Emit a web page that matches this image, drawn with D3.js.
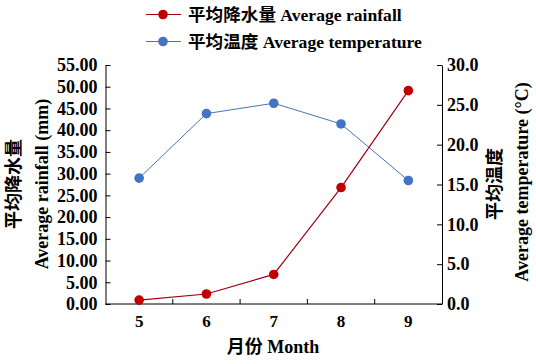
<!DOCTYPE html>
<html><head><meta charset="utf-8">
<script src="https://cdn.jsdelivr.net/npm/d3@7/dist/d3.min.js"></script>
<style>body{margin:0;background:#fff}svg{display:block}</style>
</head><body>
<svg id="c" width="536" height="364"></svg>
<script>
const months = ["5","6","7","8","9"];
const rainfall = [0.9, 2.3, 6.8, 26.8, 49.1];
const temperature = [15.8, 23.9, 25.2, 22.6, 15.5];
const leftTicks = [0,5,10,15,20,25,30,35,40,45,50,55];
const rightTicks = [0,5,10,15,20,25,30];

const FONT = "'Liberation Serif','Times New Roman','Noto Sans CJK SC',serif";
const svg = d3.select("#c");
const L = 105.5, R = 442, T = 65, B = 304;

const x = d3.scaleBand().domain(months).range([L, R]);
const yL = d3.scaleLinear().domain([0,55]).range([B, T]);
const yR = d3.scaleLinear().domain([0,30]).range([B, T]);

function styleAxis(g, size){
  g.selectAll("path, line").attr("stroke","#000").attr("stroke-width",1);
  g.selectAll("text").attr("font-family",FONT).attr("font-weight","bold").attr("font-size",size).attr("fill","#000");
}

const gl = svg.append("g").attr("transform",`translate(${L},0)`)
  .call(d3.axisLeft(yL).tickValues(leftTicks).tickFormat(d3.format(".2f")).tickSizeInner(-5).tickSizeOuter(0).tickPadding(8));
styleAxis(gl, "18px");
const gr = svg.append("g").attr("transform",`translate(${R},0)`)
  .call(d3.axisRight(yR).tickValues(rightTicks).tickFormat(d3.format(".1f")).tickSizeInner(-5).tickSizeOuter(0).tickPadding(5));
styleAxis(gr, "18px");
const gb = svg.append("g").attr("transform",`translate(0,${B})`)
  .call(d3.axisBottom(x).tickSize(0).tickPadding(11));
styleAxis(gb, "17px");
gb.select(".domain").attr("d",`M${L},0H${R}`);
months.slice(1).forEach(m=>{
  gb.append("line").attr("x1",x(m)).attr("x2",x(m)).attr("y1",0).attr("y2",-5).attr("stroke","#000");
});

const cx = m => x(m) + x.bandwidth()/2;
const blueLine = "#4a72b8", blueDot = "#4472c4", redLine = "#a00010", redDot = "#c00000";
svg.append("path").datum(temperature)
  .attr("d", d3.line().x((d,i)=>cx(months[i])).y(d=>yR(d)))
  .attr("fill","none").attr("stroke",blueLine).attr("stroke-width",1);
svg.append("path").datum(rainfall)
  .attr("d", d3.line().x((d,i)=>cx(months[i])).y(d=>yL(d)))
  .attr("fill","none").attr("stroke",redLine).attr("stroke-width",1.2);
svg.selectAll(".tp").data(temperature).enter().append("circle")
  .attr("cx",(d,i)=>cx(months[i])).attr("cy",d=>yR(d)).attr("r",4.8).attr("fill",blueDot);
svg.selectAll(".rp").data(rainfall).enter().append("circle")
  .attr("cx",(d,i)=>cx(months[i])).attr("cy",d=>yL(d)).attr("r",4.8).attr("fill",redDot);

const leg = [
  {label:"平均降水量 Average rainfall", line:redLine, dot:redDot, y:14.5},
  {label:"平均温度 Average temperature", line:blueLine, dot:blueDot, y:41.5}
];
leg.forEach(l=>{
  svg.append("line").attr("x1",146).attr("x2",181).attr("y1",l.y).attr("y2",l.y).attr("stroke",l.line).attr("stroke-width",1.2);
  svg.append("circle").attr("cx",163).attr("cy",l.y).attr("r",4.8).attr("fill",l.dot);
  svg.append("text").attr("x",188).attr("y",l.y+6).text(l.label)
    .attr("font-family",FONT).attr("font-weight","bold").attr("font-size","17.6px");
});

function vtext(xp, yp, txt, size){
  svg.append("text").attr("transform",`translate(${xp},${yp}) rotate(-90)`)
    .attr("text-anchor","middle").attr("font-family",FONT).attr("font-weight","bold")
    .attr("font-size",size).text(txt);
}
vtext(20, 184, "平均降水量", "18px");
vtext(48, 184, "Average rainfall (mm)", "18px");
vtext(501, 184, "平均温度", "18px");
vtext(528, 182, "Average temperature (°C)", "18px");

svg.append("text").attr("x",273).attr("y",353).attr("text-anchor","middle")
  .attr("font-family",FONT).attr("font-weight","bold").attr("font-size","18px").text("月份 Month");
</script>
</body></html>
